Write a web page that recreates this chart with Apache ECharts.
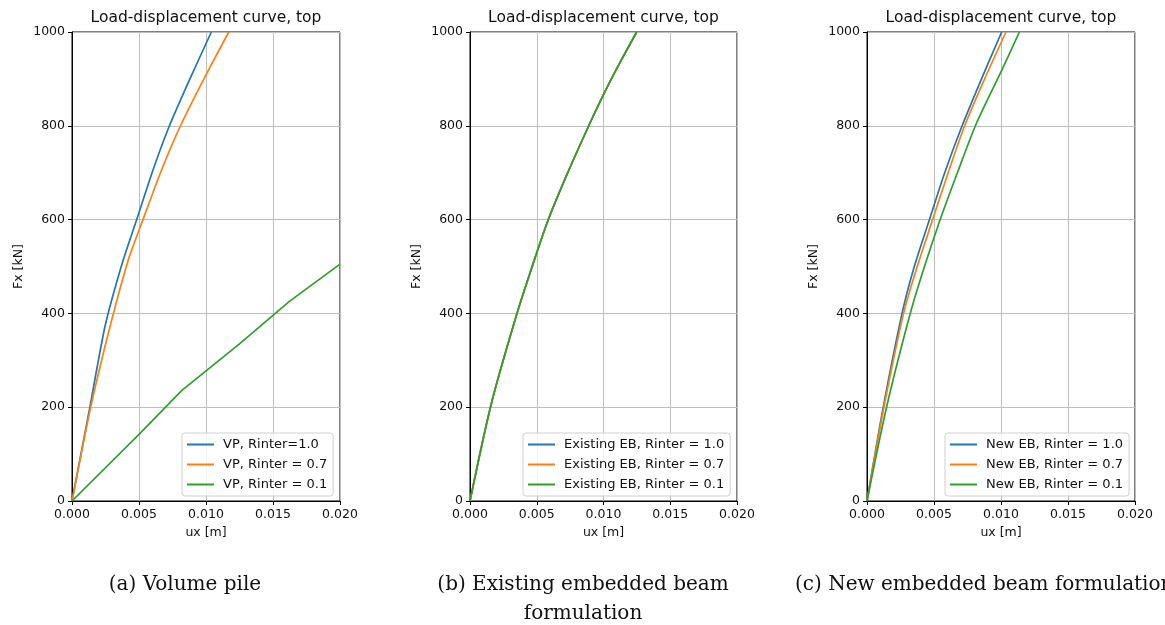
<!DOCTYPE html>
<html>
<head>
<meta charset="utf-8">
<script src="https://cdn.jsdelivr.net/npm/echarts@6/dist/echarts.min.js"></script>
<style>
  html, body { margin: 0; padding: 0; background: #fff; }
  #chart { width: 1165px; height: 625px; }
</style>
</head>
<body>
<div id="chart"></div>
<script>
// Tick values shared by all three panels
const xTicks = [0, 0.005, 0.01, 0.015, 0.02];
const yTicks = [0, 200, 400, 600, 800, 1000];

// (a) Volume pile: [ux (m), Fx (kN)]
const vpR10 = [[0,0],[0.00134,201],[0.00246,372],[0.00378,510],[0.00483,600],[0.0060,702],[0.00724,798],[0.0088,900],[0.0104,1000]];
const vpR07 = [[0,0],[0.00138,198],[0.00284,372],[0.0042,514],[0.0053,600],[0.0066,700],[0.00806,798],[0.00993,905],[0.0117,1000]];
const vpR01 = [[0,0],[0.005,142],[0.0082,236],[0.0125,335],[0.0162,425],[0.02,505]];

// (b) Existing embedded beam
const ebR10 = [[0,0],[0.00162,210],[0.0035,398],[0.0046,495],[0.0058,595],[0.0072,692],[0.00886,798],[0.00999,866],[0.0112,933],[0.01249,1000]];
const ebR07 = [[0,0],[0.00162,210],[0.0035,398],[0.0046,495],[0.0058,595],[0.0072,692],[0.00886,798],[0.00999,866],[0.0112,933],[0.01249,1000]];
const ebR01 = [[0,0],[0.00162,210],[0.0035,398],[0.0046,495],[0.0058,595],[0.0072,692],[0.00886,798],[0.00999,866],[0.0112,933],[0.01249,1000]];

// (c) New embedded beam
const nebR10 = [[0,0],[0.00122,201],[0.0026,398],[0.00345,492],[0.00465,599],[0.0058,700],[0.00707,798],[0.0085,897],[0.01005,1000]];
const nebR07 = [[0,0],[0.00127,201],[0.00271,398],[0.00366,492],[0.0049,600],[0.0060,695],[0.00726,798],[0.0087,895],[0.01037,1000]];
const nebR01 = [[0,0],[0.00147,201],[0.00321,398],[0.0042,492],[0.00545,599],[0.0068,704],[0.00806,798],[0.0092,868],[0.01005,918],[0.01137,1000]];

const panels = [
  { left: 72,  width: 268, legendLeft: 182, names: ['VP, Rinter=1.0', 'VP, Rinter = 0.7', 'VP, Rinter = 0.1'], data: [vpR10, vpR07, vpR01], smooth: [0.2, 0.2, false] },
  { left: 470, width: 267, legendLeft: 523, names: ['Existing EB, Rinter = 1.0', 'Existing EB, Rinter = 0.7', 'Existing EB, Rinter = 0.1'], data: [ebR10, ebR07, ebR01], smooth: [0.3, 0.3, 0.3] },
  { left: 867, width: 268, legendLeft: 945, names: ['New EB, Rinter = 1.0', 'New EB, Rinter = 0.7', 'New EB, Rinter = 0.1'], data: [nebR10, nebR07, nebR01], smooth: [0.3, 0.3, 0.3] }
];

const colors = ['#1f77b4', '#ff7f0e', '#2ca02c'];
const ink = '#111';
const tickFont = { fontFamily: 'DejaVu Sans', fontSize: 12.5, color: ink };

const grids = [], xAxes = [], yAxes = [], series = [], legends = [], graphics = [];

panels.forEach((p, i) => {
  grids.push({
    left: p.left, width: p.width, top: 32, height: 469,
    show: true, borderColor: '#000', borderWidth: 1, backgroundColor: 'transparent'
  });
  xAxes.push({
    gridIndex: i, type: 'value', min: xTicks[0], max: xTicks[xTicks.length - 1], interval: 0.005,
    name: 'ux [m]', nameLocation: 'middle', nameGap: 25,
    nameTextStyle: { fontFamily: 'DejaVu Sans', fontSize: 12.5, color: ink },
    axisLine: { show: true, onZero: false, lineStyle: { color: '#000', width: 1 } },
    axisTick: { show: true, length: 4, lineStyle: { color: '#000' } },
    axisLabel: Object.assign({ margin: 7, formatter: v => v.toFixed(3), showMaxLabel: true, showMinLabel: true }, tickFont),
    splitLine: { show: true, lineStyle: { color: '#bdbdbd', width: 1 } }
  });
  yAxes.push({
    gridIndex: i, type: 'value', min: yTicks[0], max: yTicks[yTicks.length - 1], interval: 200,
    name: 'Fx [kN]', nameLocation: 'middle', nameGap: 47,
    nameTextStyle: { fontFamily: 'DejaVu Sans', fontSize: 12.5, color: ink },
    axisLine: { show: true, onZero: false, lineStyle: { color: '#000', width: 1 } },
    axisTick: { show: true, length: 4, lineStyle: { color: '#000' } },
    axisLabel: Object.assign({ margin: 7, formatter: v => String(v) }, tickFont),
    splitLine: { show: true, lineStyle: { color: '#bdbdbd', width: 1 } }
  });
  p.names.forEach((name, k) => {
    series.push({
      name: name, type: 'line', xAxisIndex: i, yAxisIndex: i,
      data: p.data[k], showSymbol: false, symbol: 'none', clip: true,
      smooth: p.smooth[k],
      lineStyle: { color: colors[k], width: 1.7 }, itemStyle: { color: colors[k] },
      animation: false
    });
  });
  legends.push({
    data: p.names.map((n, k) => ({ name: n, icon: 'rect', itemStyle: { color: colors[k] } })),
    orient: 'vertical', left: p.legendLeft, top: 433,
    itemWidth: 27, itemHeight: 2, itemGap: 5,
    padding: [4, 6, 4, 5],
    backgroundColor: 'rgba(255,255,255,0.85)', borderColor: '#d0d0d0', borderWidth: 1, borderRadius: 3,
    textStyle: { fontFamily: 'DejaVu Sans', fontSize: 13, color: ink, lineHeight: 15, padding: [0, 0, 0, 4] },
    selectedMode: false
  });
  graphics.push({
    type: 'text', x: p.left + p.width / 2, y: 18,
    style: { text: 'Load-displacement curve, top', textAlign: 'center', textVerticalAlign: 'middle',
             font: '15.5px "DejaVu Sans"', fill: ink }
  });
});

// Sub-figure captions
const captionFont = '20px "DejaVu Serif"';
graphics.push(
  { type: 'text', x: 185, y: 585, style: { text: '(a) Volume pile', textAlign: 'center', textVerticalAlign: 'middle', font: captionFont, fill: '#111' } },
  { type: 'text', x: 583, y: 585, style: { text: '(b) Existing embedded beam', textAlign: 'center', textVerticalAlign: 'middle', font: captionFont, fill: '#111' } },
  { type: 'text', x: 583, y: 614, style: { text: 'formulation', textAlign: 'center', textVerticalAlign: 'middle', font: captionFont, fill: '#111' } },
  { type: 'text', x: 795, y: 585, style: { text: '(c) New embedded beam formulation', textAlign: 'left', textVerticalAlign: 'middle', font: captionFont, fill: '#111' } }
);

const chart = echarts.init(document.getElementById('chart'), null, { renderer: 'canvas' });
chart.setOption({
  animation: false,
  backgroundColor: '#fff',
  grid: grids,
  xAxis: xAxes,
  yAxis: yAxes,
  legend: legends,
  series: series,
  graphic: graphics
});
</script>
</body>
</html>
